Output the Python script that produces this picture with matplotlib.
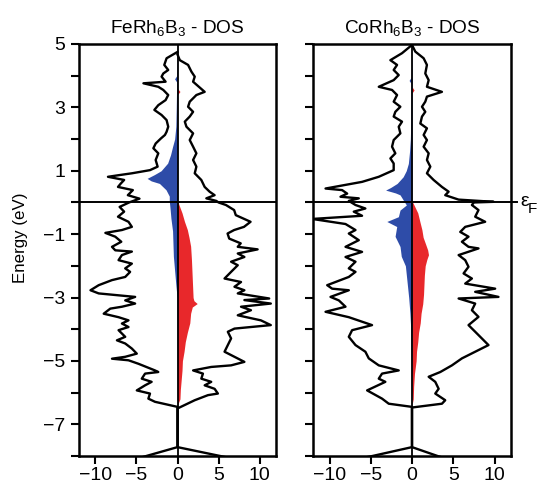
import matplotlib
matplotlib.use("Agg")
import matplotlib.pyplot as plt
from matplotlib.ticker import FixedLocator, FuncFormatter

plt.rcParams['font.family'] = ['Liberation Sans', 'DejaVu Sans']
plt.rcParams['mathtext.default'] = 'regular'

# ---------------- data ----------------
titles = ["FeRh$_6$B$_3$ - DOS", "CoRh$_6$B$_3$ - DOS"]

# FeRh6B3 total DOS, spin down (plotted negative)
fe_dn_E = [4.75, 4.55, 4.34, 4.18, 4.07, 3.97, 3.81, 3.76, 3.65, 3.55, 3.39, 3.23, 3.07, 2.92, 2.76, 2.60,
           2.39, 2.23, 2.13, 2.02, 1.86, 1.71, 1.55, 1.34, 1.13, 1.02, 0.92, 0.86, 0.81, 0.71, 0.60, 0.49,
           0.39, 0.23, 0.12, 0.0, -0.14, -0.29, -0.45, -0.61, -0.77, -0.87, -0.96, -1.08, -1.24, -1.40,
           -1.51, -1.55, -1.66, -1.82, -1.93, -2.08, -2.19, -2.35, -2.45, -2.61, -2.77, -2.87, -2.93, -2.98,
           -3.09, -3.19, -3.29, -3.35, -3.51, -3.62, -3.72, -3.82, -3.93, -4.03, -4.24, -4.35, -4.45, -4.61,
           -4.77, -4.87, -4.93, -4.98, -5.09, -5.30, -5.35, -5.40, -5.56, -5.66, -5.77, -5.93, -6.03, -6.19,
           -6.29, -6.45, -7.72, -8.0, -8.2]
fe_dn = [0, -1.33, -1.61, -1.13, -1.73, -1.94, -1.45, -4.15, -2.34, -1.73, -1.13, -1.45, -2.34, -2.82, -1.94,
         -1.33, -1.13, -1.33, -1.53, -2.02, -2.66, -2.94, -2.34, -2.66, -2.42, -3.35, -5.56, -7.18, -8.47,
         -6.5, -6.9, -7.25, -5.44, -6.05, -4.63, -5.9, -7.05, -6.5, -7.25, -5.97, -5.56, -6.77, -8.79, -7.58,
         -6.85, -7.98, -7.58, -5.56, -6.77, -7.18, -5.56, -6.37, -5.77, -6.37, -7.98, -9.6, -10.6, -9.6,
         -7.18, -5.16, -6.37, -5.16, -6.77, -8.19, -8.99, -7.18, -5.97, -6.77, -5.97, -7.18, -6.37, -7.38,
         -6.37, -5.56, -4.96, -6.37, -7.98, -5.97, -4.76, -2.74, -2.34, -3.95, -4.35, -3.15, -3.95, -4.96,
         -3.35, -3.55, -2.74, 0, 0, -3.8, -6.5]

# FeRh6B3 total DOS, spin up
fe_up_E = [4.67, 4.49, 4.34, 4.13, 3.97, 3.81, 3.49, 3.39, 3.18, 3.02, 2.86, 2.71, 2.55, 2.39, 2.18, 1.97,
           1.76, 1.55, 1.34, 1.13, 0.92, 0.71, 0.49, 0.34, 0.23, 0.13, 0.05, 0.0, -0.08, -0.24, -0.40, -0.61,
           -0.77, -0.87, -0.98, -1.14, -1.29, -1.40, -1.48, -1.61, -1.72, -1.87, -1.98, -2.19, -2.40, -2.51,
           -2.66, -2.77, -2.87, -3.03, -3.08, -3.19, -3.29, -3.40, -3.56, -3.72, -3.87, -3.98, -4.08, -4.29,
           -4.50, -4.71, -4.87, -5.03, -5.14, -5.19, -5.30, -5.40, -5.56, -5.66, -5.77, -5.88, -6.03, -6.08,
           -6.24, -6.50, -7.72, -8.0, -8.2]
fe_up = [0, 0.28, 1.29, 1.69, 2.1, 1.9, 3.31, 2.3, 1.49, 1.29, 1.9, 1.49, 0.89, 1.09, 1.9, 1.49, 1.9, 2.3,
         1.9, 2.3, 2.1, 2.9, 3.31, 3.91, 4.52, 3.51, 4.72, 5.0, 5.9, 6.9, 7.1, 8.9, 8.1, 6.9, 6.1, 6.3, 7.7,
         7.34, 9.76, 7.34, 8.15, 6.53, 7.34, 6.53, 5.73, 7.74, 6.94, 8.15, 7.34, 11.17, 8.15, 11.37, 7.74,
         8.95, 7.34, 10.16, 11.37, 6.94, 6.13, 6.53, 6.13, 5.73, 6.94, 8.15, 6.53, 4.11, 1.9, 3.1, 2.9, 4.11,
         3.31, 4.52, 4.92, 3.71, 2.1, 0, 0, 5.2, 9.0]

# CoRh6B3 total DOS, spin down (plotted negative)
co_dn_E = [4.97, 4.71, 4.49, 4.34, 4.18, 4.02, 3.86, 3.65, 3.55, 3.39, 3.18, 3.02, 2.86, 2.71, 2.55, 2.39,
           2.18, 1.97, 1.76, 1.55, 1.39, 1.23, 1.02, 0.81, 0.65, 0.44, 0.39, 0.28, 0.18, 0.13, 0.05, -0.08,
           -0.19, -0.29, -0.42, -0.52, -0.68, -0.87, -0.98, -1.19, -1.40, -1.56, -1.72, -1.87, -2.08, -2.19,
           -2.35, -2.61, -2.72, -2.77, -2.98, -3.09, -3.29, -3.45, -3.62, -3.87, -4.03, -4.24, -4.50, -4.71,
           -4.92, -5.14, -5.30, -5.40, -5.56, -5.66, -5.93, -6.19, -6.35, -6.45, -7.72, -8.0, -8.2]
co_dn = [0, -1.21, -2.62, -1.81, -2.22, -1.61, -2.22, -4.03, -2.42, -1.81, -2.22, -1.41, -2.02, -2.22, -1.21,
         -1.61, -1.41, -2.22, -2.42, -2.02, -2.62, -2.22, -2.22, -4.03, -6.05, -10.48, -8.47, -7.86, -8.67,
         -6.45, -7.66, -6.85, -5.65, -7.06, -6.05, -12.1, -8.06, -6.85, -7.66, -6.45, -8.06, -6.05, -8.06,
         -6.85, -7.66, -6.85, -7.66, -10.28, -9.68, -7.66, -9.88, -8.87, -8.06, -10.48, -7.66, -4.84, -7.26,
         -7.66, -6.85, -5.65, -5.24, -4.03, -1.61, -3.63, -4.03, -3.23, -5.44, -3.63, -2.82, 0, 0, -4.8, -8.5]

# CoRh6B3 total DOS, spin up
co_up_E = [4.97, 4.76, 4.55, 4.34, 4.07, 3.86, 3.65, 3.49, 3.34, 3.18, 3.02, 2.86, 2.71, 2.49, 2.34, 2.13,
           1.97, 1.76, 1.55, 1.34, 1.13, 0.92, 0.71, 0.49, 0.34, 0.23, 0.09, 0.02, 0.0, -0.08, -0.24, -0.45,
           -0.61, -0.77, -0.93, -1.08, -1.24, -1.40, -1.45, -1.66, -1.82, -2.03, -2.24, -2.40, -2.56, -2.72,
           -2.82, -2.98, -3.03, -3.19, -3.40, -3.61, -3.87, -4.08, -4.50, -4.71, -4.92, -5.14, -5.35, -5.50,
           -5.66, -5.88, -6.03, -6.24, -6.35, -6.47, -7.72, -8.0, -8.2]
co_up = [0, 0.4, 1.41, 1.81, 1.61, 2.02, 1.81, 3.63, 1.81, 1.61, 1.21, 1.61, 1.21, 1.01, 1.81, 1.41, 1.81,
         1.41, 2.02, 1.81, 2.22, 1.81, 2.62, 3.63, 4.44, 4.03, 5.65, 9.9, 7.5, 7.26, 8.06, 7.66, 8.87, 6.45,
         5.85, 6.85, 6.05, 6.85, 8.06, 5.65, 6.45, 6.85, 6.25, 7.26, 6.45, 10.08, 7.66, 10.48, 5.65, 7.66,
         7.26, 8.06, 6.85, 7.66, 9.27, 7.66, 6.05, 4.84, 3.43, 2.02, 2.82, 3.23, 2.82, 4.03, 3.63, 0, 0, 3.1,
         5.5]

# Fe partial DOS (spin down, blue; spin up, red)
fe_pd_E = [4.8, 4.0, 3.9, 3.8, 3.0, 2.4, 2.0, 1.76, 1.5, 1.24, 1.0, 0.88, 0.76, 0.68, 0.6, 0.5, 0.4, 0.3,
           0.2, 0.05, -0.2, -0.5, -0.9, -1.3, -1.7, -2.0, -2.3, -2.6, -3.0, -6.4]
fe_pd = [0, -0.1, -0.35, -0.1, -0.15, -0.2, -0.35, -0.6, -0.85, -1.2, -2.0, -2.8, -3.7, -3.2, -2.2, -1.8,
         -1.4, -1.2, -1.0, -1.0, -0.9, -0.8, -0.6, -0.55, -0.5, -0.4, -0.3, -0.2, -0.05, 0]
fe_pu_E = [3.6, 3.5, 3.4, 0.05, -0.33, -0.6, -0.86, -1.1, -1.38, -1.8, -2.1, -2.4, -2.7, -3.0, -3.1, -3.19,
           -3.3, -3.5, -3.8, -4.1, -4.4, -4.7, -5.0, -5.3, -5.6, -5.9, -6.2, -6.4]
fe_pu = [0, 0.3, 0, 0, 0.55, 0.85, 1.2, 1.4, 1.6, 1.7, 1.75, 1.8, 1.85, 1.9, 2.0, 2.4, 1.8, 1.6, 1.5, 1.2,
         0.95, 0.8, 0.6, 0.55, 0.45, 0.35, 0.3, 0]

# Co partial DOS (spin down, blue; spin up, red)
co_pd_E = [4.8, 3.95, 3.85, 3.75, 2.5, 2.0, 1.6, 1.23, 1.0, 0.81, 0.6, 0.47, 0.39, 0.3, 0.24, 0.08, -0.08,
           -0.24, -0.45, -0.6, -0.76, -1.07, -1.39, -1.7, -2.0, -2.5, -3.0, -3.5, -4.0, -5.0, -6.3]
co_pd = [0, -0.1, -0.35, -0.1, -0.15, -0.2, -0.3, -0.44, -0.7, -1.07, -1.8, -2.6, -3.2, -2.0, -1.45, -1.07,
         -0.68, -1.45, -1.65, -3.05, -1.85, -2.05, -1.45, -1.3, -0.8, -0.6, -0.4, -0.25, -0.15, -0.08, 0]
co_pu_E = [3.65, 3.55, 3.45, 0.05, -0.33, -0.6, -0.86, -1.1, -1.28, -1.5, -1.65, -1.8, -2.0, -2.3, -2.6,
           -2.9, -3.2, -3.5, -3.8, -4.1, -4.4, -4.7, -5.0, -5.4, -5.8, -6.2, -6.4]
co_pu = [0, 0.25, 0, 0, 0.7, 0.95, 1.2, 1.35, 1.6, 1.9, 2.0, 1.8, 1.6, 1.5, 1.45, 1.4, 1.3, 1.1, 1.0, 0.8,
         0.7, 0.55, 0.5, 0.3, 0.2, 0.15, 0]

x_ticks = [-10, -5, 0, 5, 10]
y_ticks = [-8, -7, -6, -5, -4, -3, -2, -1, 0, 1, 2, 3, 4, 5]

BLUE = '#2e4ca8'
RED = '#e8282b'

# ---------------- figure ----------------
W, H = 538, 488
fig = plt.figure(figsize=(W / 100, H / 100), dpi=100)
fig.patch.set_facecolor('white')

panels = [
    (79, 276, (fe_dn_E, fe_dn, fe_up_E, fe_up, fe_pd_E, fe_pd, fe_pu_E, fe_pu)),
    (313, 511, (co_dn_E, co_dn, co_up_E, co_up, co_pd_E, co_pd, co_pu_E, co_pu)),
]
top_px, bot_px = 44, 456

for i, (l, r, d) in enumerate(panels):
    ax = fig.add_axes([l / W, (H - bot_px) / H, (r - l) / W, (bot_px - top_px) / H])
    dE, dv, uE, uv, pdE, pdv, puE, puv = d
    ax.fill_betweenx(pdE, 0, pdv, color=BLUE, linewidth=0, zorder=2)
    ax.fill_betweenx(puE, 0, puv, color=RED, linewidth=0, zorder=2)
    ax.plot(dv, dE, color='black', lw=1.7, zorder=3)
    ax.plot(uv, uE, color='black', lw=1.7, zorder=3)
    ax.axvline(0, color='black', lw=1.3, zorder=4)
    if i == 0:
        ax.axhline(0, color='black', lw=1.4, zorder=4)
    else:
        ax.axhline(0, xmin=0, xmax=(517 - l) / (r - l), color='black', lw=1.4, zorder=4, clip_on=False)
    ax.set_xlim(-12, 12)
    ax.set_ylim(-8, 5)
    for s in ax.spines.values():
        s.set_linewidth(1.8)
    ax.xaxis.set_major_locator(FixedLocator(x_ticks))
    ax.yaxis.set_major_locator(FixedLocator(y_ticks))
    ax.tick_params(axis='both', direction='out', length=5.5, width=1.5, labelsize=14, color='black')
    ax.tick_params(axis='x', pad=2.5)
    ax.tick_params(axis='y', pad=4.5)
    if i == 0:
        ax.yaxis.set_major_formatter(FuncFormatter(
            lambda v, p: ('\u2212%d' % abs(v) if v < 0 else '%d' % v) if int(round(v)) % 2 != 0 else ''))
        ax.set_ylabel('Energy (eV)', fontsize=12.2)
        ax.yaxis.set_label_coords(-0.26, 0.53)
    else:
        ax.set_yticklabels([])
    ax.set_title(titles[i], fontsize=13.7, pad=8)

fig.text(520 / W, 1 - 202 / H, '\u03b5', fontsize=14, ha='left', va='center')
fig.text(528 / W, 1 - 209 / H, 'F', fontsize=11, ha='left', va='center')

fig.savefig('out.png', dpi=100, facecolor='white')
